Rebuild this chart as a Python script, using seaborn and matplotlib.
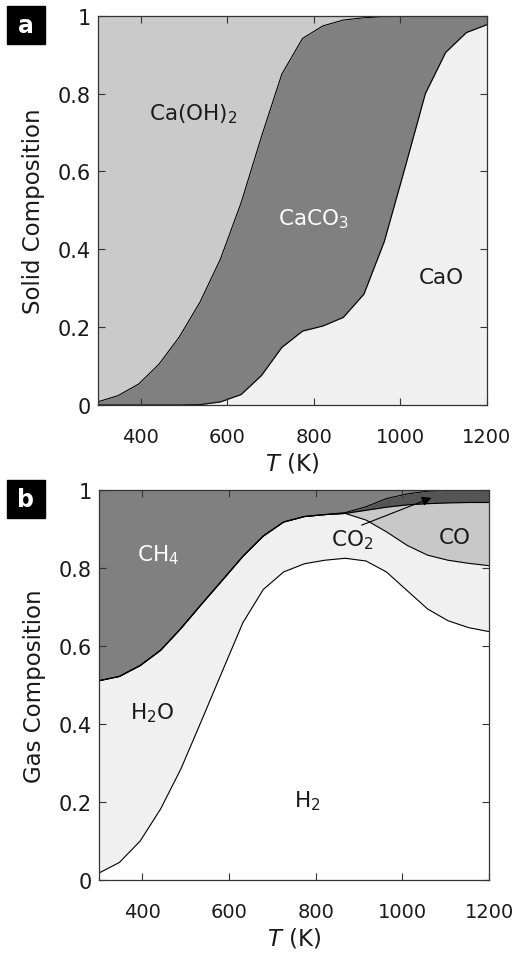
import numpy as np
import seaborn as sns
import matplotlib
matplotlib.use("Agg")
import matplotlib.pyplot as plt
from matplotlib.patches import Rectangle

# temperature grid (K)
T = [300, 347, 395, 442, 489, 537, 584, 632, 679, 726,
     774, 821, 868, 916, 963, 1011, 1058, 1105, 1153, 1200]

# solid composition (mole fractions)
cao = [0, 0, 0, 0, 0, 0.001, 0.008, 0.027, 0.076, 0.148,
       0.19, 0.203, 0.225, 0.285, 0.42, 0.61, 0.80, 0.906, 0.957, 0.977]
caco3 = [0.008, 0.024, 0.054, 0.105, 0.175, 0.264, 0.367, 0.493, 0.614, 0.702,
         0.752, 0.771, 0.764, 0.71, 0.578, 0.389, 0.20, 0.094, 0.043, 0.023]
ca_oh2 = [0.992, 0.976, 0.946, 0.895, 0.825, 0.735, 0.625, 0.48, 0.31, 0.15,
          0.058, 0.026, 0.011, 0.005, 0.002, 0.001, 0, 0, 0, 0]

# gas composition (mole fractions)
h2 = [0.018, 0.045, 0.10, 0.182, 0.285, 0.41, 0.534, 0.66, 0.745, 0.79,
      0.811, 0.82, 0.825, 0.818, 0.79, 0.742, 0.695, 0.665, 0.647, 0.637]
h2o = [0.493, 0.477, 0.45, 0.407, 0.36, 0.298, 0.234, 0.17, 0.137, 0.128,
       0.121, 0.117, 0.115, 0.105, 0.103, 0.116, 0.138, 0.155, 0.165, 0.169]
co = [0, 0, 0, 0, 0, 0, 0, 0, 0, 0,
      0, 0, 0, 0.025, 0.063, 0.104, 0.132, 0.147, 0.156, 0.162]
co2 = [0, 0, 0, 0, 0, 0, 0, 0, 0, 0,
       0, 0, 0.002, 0.009, 0.022, 0.028, 0.032, 0.032, 0.032, 0.032]
ch4 = [0.489, 0.478, 0.45, 0.411, 0.355, 0.292, 0.232, 0.17, 0.118, 0.082,
       0.068, 0.063, 0.058, 0.043, 0.022, 0.01, 0.003, 0.001, 0, 0]

sns.set_style("ticks")
plt.rcParams["font.family"] = ["DejaVu Sans"]
plt.rcParams["mathtext.fontset"] = "dejavusans"

txt = "#1a1a1a"
fig = plt.figure(figsize=(5.14, 9.54), dpi=100)
ax1 = fig.add_axes([0.190, 0.5744, 0.757, 0.408])
ax2 = fig.add_axes([0.1926, 0.0765, 0.759, 0.4088])


def panel(ax, layers, colors, ylabel):
    ax.stackplot(T, *layers, colors=colors, linewidth=0)
    cum = np.cumsum(np.array(layers), axis=0)
    for row in cum[:-1]:
        sns.lineplot(x=T, y=row, ax=ax, color="black", lw=0.8)
    ax.set_axisbelow(False)
    ax.set_xlim(300, 1200)
    ax.set_ylim(0, 1)
    ax.set_xticks([400, 600, 800, 1000, 1200])
    ax.set_yticks([0, 0.2, 0.4, 0.6, 0.8, 1])
    ax.set_yticklabels(["0", "0.2", "0.4", "0.6", "0.8", "1"])
    ax.tick_params(direction="in", top=True, right=True, length=5, width=0.8,
                   colors="#333333", labelcolor=txt)
    ax.tick_params(axis="x", pad=16, labelsize=14)
    ax.tick_params(axis="y", pad=5, labelsize=15)
    for s in ax.spines.values():
        s.set_linewidth(0.9)
        s.set_color("#333333")
        s.set_zorder(5)
    ax.set_xlabel(r"$T$ (K)", fontsize=16.5, color=txt, labelpad=3)
    ax.set_ylabel(ylabel, fontsize=16.5, color=txt, labelpad=9)


panel(ax1, [cao, caco3, ca_oh2], ["#f0f0f0", "#808080", "#cacaca"],
      "Solid Composition")
ax1.text(520, 0.75, r"Ca(OH)$_2$", fontsize=15.5, color=txt, ha="center", va="center")
ax1.text(798, 0.48, r"CaCO$_3$", fontsize=15.5, color="white", ha="center", va="center")
ax1.text(1096, 0.33, "CaO", fontsize=15.5, color=txt, ha="center", va="center")

panel(ax2, [h2, h2o, co, co2, ch4],
      ["#ffffff", "#f0f0f0", "#c8c8c8", "#555555", "#808080"],
      "Gas Composition")
ax2.text(436, 0.835, r"CH$_4$", fontsize=15.5, color="white", ha="center", va="center")
ax2.text(422, 0.43, r"H$_2$O", fontsize=15.5, color=txt, ha="center", va="center")
ax2.text(780, 0.205, r"H$_2$", fontsize=15.5, color=txt, ha="center", va="center")
ax2.text(885, 0.875, r"CO$_2$", fontsize=15.5, color=txt, ha="center", va="center")
ax2.text(1121, 0.88, "CO", fontsize=15.5, color=txt, ha="center", va="center")
ax2.annotate("", xy=(1067, 0.98), xytext=(906, 0.91),
             arrowprops=dict(arrowstyle="-|>", color="black", lw=0.8,
                             mutation_scale=14, shrinkA=0, shrinkB=0))

# panel letters
for lab, y0 in [("a", 0.9528), ("b", 0.456)]:
    fig.patches.append(Rectangle((0.0136, y0), 0.0739, 0.0398,
                                 transform=fig.transFigure, color="black"))
    fig.text(0.0136 + 0.0739 / 2, y0 + 0.0398 / 2, lab, color="white",
             fontsize=17, fontweight="bold", ha="center", va="center")

fig.savefig("out.png", dpi=100)
